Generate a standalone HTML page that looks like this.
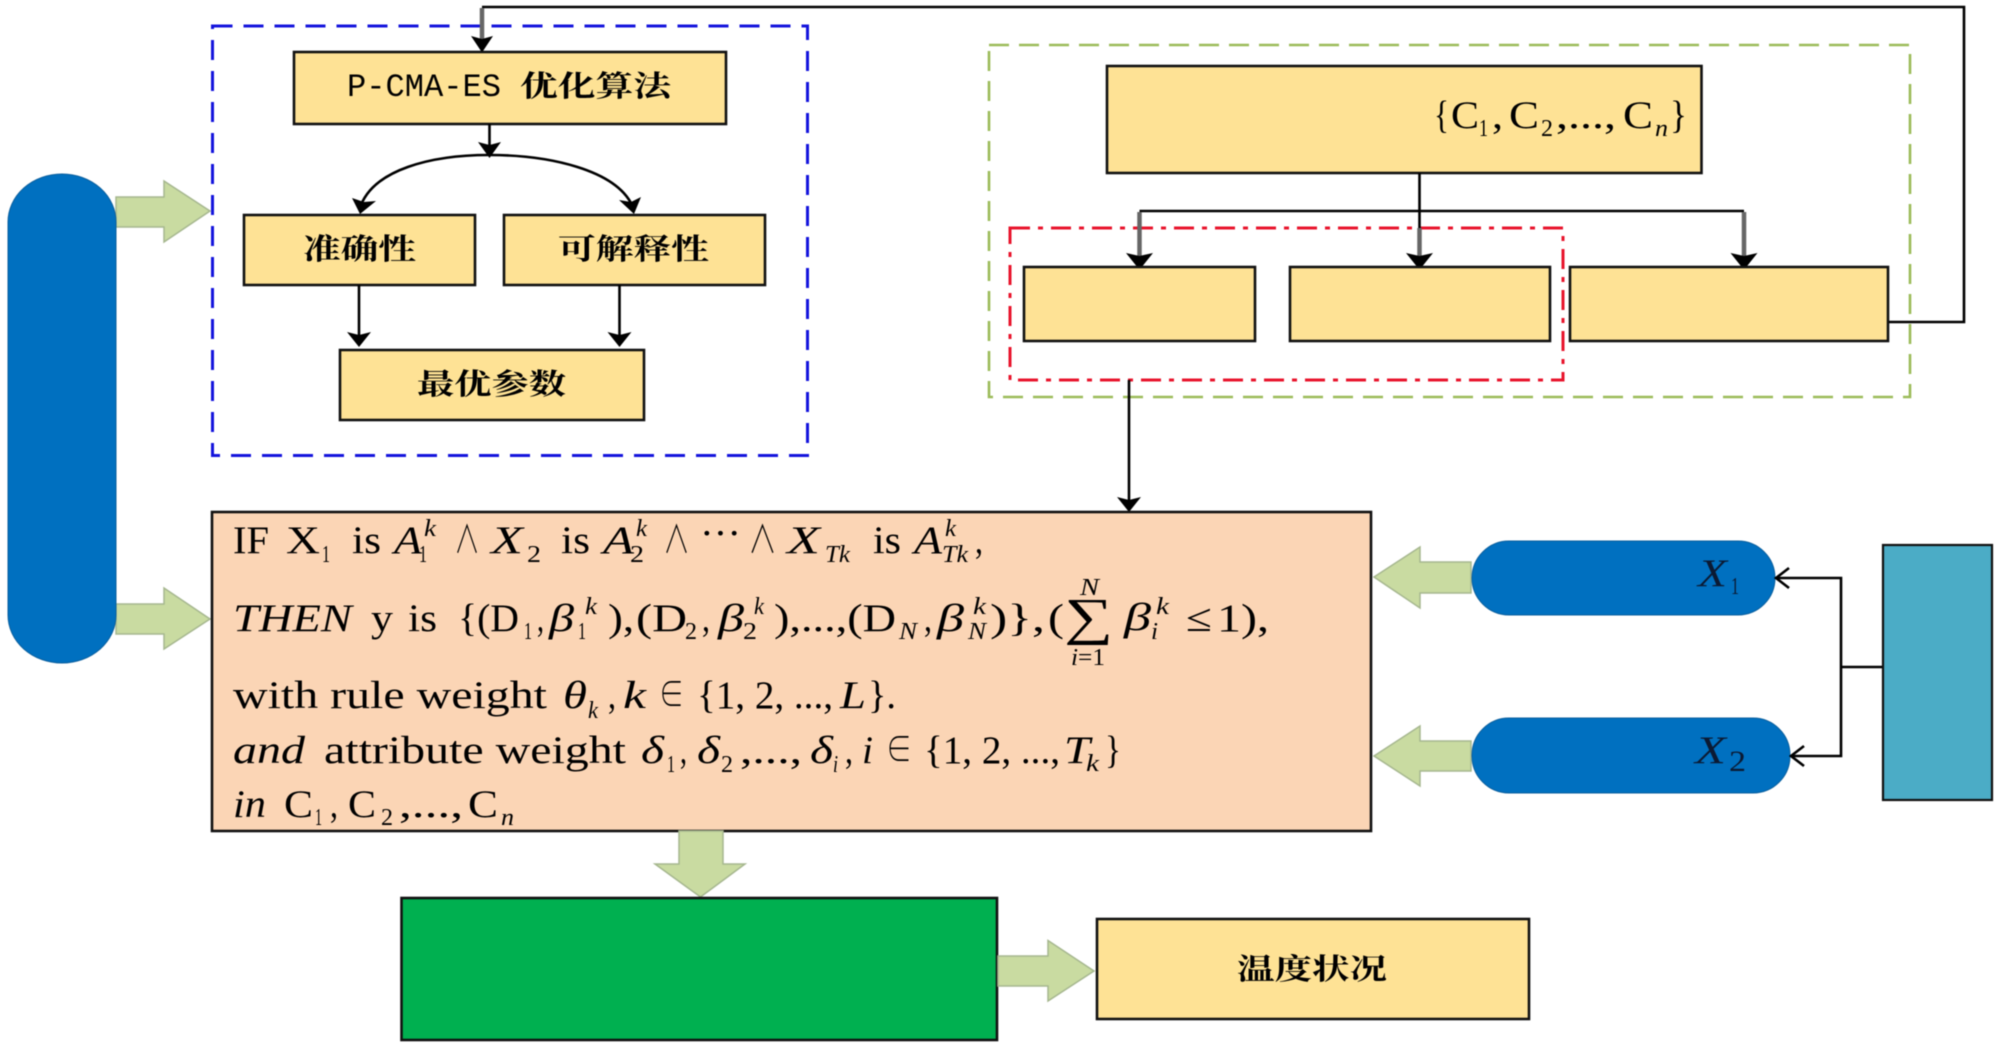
<!DOCTYPE html>
<html lang="zh"><head><meta charset="utf-8"><title>Diagram</title>
<style>
html,body{margin:0;padding:0;background:#fff}
svg{display:block;filter:blur(.4px)}
text{fill:#000;font-family:"Liberation Serif","Noto Serif CJK SC",serif;font-size:39px}
.i{font-style:italic}
.s{font-size:24px}
.si{font-size:24px;font-style:italic}
.c{font-family:"Liberation Serif","Noto Serif CJK SC",serif;font-weight:700;font-size:29px}
.m{font-family:"Liberation Mono","Noto Serif CJK SC",monospace;font-size:32px;font-weight:400}
.b{fill:#FEE295;stroke:#111;stroke-width:2.6}
.g{fill:#C9DBA1;stroke:#A6B78F;stroke-width:1.5}
.l{fill:none;stroke:#000;stroke-width:2.6}
.h{fill:#000}
.gs{stroke:#666;stroke-width:4.5;fill:none}
</style></head><body>
<svg xmlns="http://www.w3.org/2000/svg" width="2000" height="1049" viewBox="0 0 2000 1049">
<rect width="2000" height="1049" fill="#fff"/>

<!-- dashed containers -->
<rect x="212.5" y="26" width="595" height="429.5" fill="none" stroke="#1414DC" stroke-width="3" stroke-dasharray="20 11"/>
<rect x="989" y="45" width="921" height="352" fill="none" stroke="#9BBB59" stroke-width="2.6" stroke-dasharray="20 10"/>
<rect x="1010" y="228" width="553" height="152" fill="none" stroke="#E8142C" stroke-width="3" stroke-dasharray="20 8 5 8"/>

<!-- feedback connector -->
<polyline class="l" points="1888,322 1964,322 1964,7 482,7"/>
<line class="gs" x1="482" y1="8" x2="482" y2="40"/>
<polygon class="h" points="471,36 482,39 493,36 483,51 481,51"/>

<!-- optimisation boxes -->
<rect class="b" x="294" y="52" width="432" height="72"/>
<text class="m" x="347" y="96" textLength="154" lengthAdjust="spacingAndGlyphs">P-CMA-ES</text>
<text class="c" x="520" y="96" textLength="151" lengthAdjust="spacingAndGlyphs">优化算法</text>
<rect class="b" x="244" y="215" width="231" height="70"/>
<text class="c" x="303" y="259" textLength="113" lengthAdjust="spacingAndGlyphs">准确性</text>
<rect class="b" x="504" y="215" width="261" height="70"/>
<text class="c" x="558" y="259" textLength="151" lengthAdjust="spacingAndGlyphs">可解释性</text>
<rect class="b" x="340" y="350" width="304" height="70"/>
<text class="c" x="417" y="394" textLength="149" lengthAdjust="spacingAndGlyphs">最优参数</text>

<line class="l" x1="489.5" y1="124" x2="489.5" y2="145"/>
<polygon class="h" points="478,142 489.5,145 501,142 489.5,158"/>
<path class="l" d="M489 155 C430 155 375 170 361 205"/>
<path class="l" d="M489 155 C550 155 615 170 632 205"/>
<polygon class="h" points="352,198 364,202 376,201 360,214"/>
<polygon class="h" points="619,200 631,202 641,197 634,214"/>
<line class="l" x1="359" y1="285" x2="359" y2="336"/>
<polygon class="h" points="347,332 359,335 371,332 359,347"/>
<line class="l" x1="619.5" y1="285" x2="619.5" y2="336"/>
<polygon class="h" points="607.5,332 619.5,335 631.5,332 619.5,347"/>

<!-- left capsule and arrows -->
<polygon class="g" points="116,197 164,197 164,181 210,211 164,242 164,227 116,227"/>
<polygon class="g" points="116,604 164,604 164,588 210,619 164,649 164,634 116,634"/>
<rect x="8" y="174" width="108" height="489" rx="54" ry="48" fill="#0070C0" stroke="#0A5F9E" stroke-width="1"/>

<!-- top right tree -->
<rect class="b" x="1107" y="66" width="594.5" height="107"/>
<line class="l" x1="1419.5" y1="173" x2="1419.5" y2="228"/>
<line class="l" x1="1139.5" y1="211" x2="1744" y2="211"/>
<line class="gs" x1="1139.5" y1="212" x2="1139.5" y2="256"/>
<line class="gs" x1="1419.5" y1="228" x2="1419.5" y2="256"/>
<line class="gs" x1="1744" y1="212" x2="1744" y2="256"/>
<polygon class="h" points="1126,253 1139.5,256 1153,253 1141,268 1138,268"/>
<polygon class="h" points="1406,253 1419.5,256 1433,253 1421,268 1418,268"/>
<polygon class="h" points="1730.5,253 1744,256 1757.5,253 1745.5,268 1742.5,268"/>
<rect class="b" x="1024" y="267" width="231" height="74"/>
<rect class="b" x="1290" y="267" width="260" height="74"/>
<rect class="b" x="1570" y="267" width="318" height="74"/>
<text x="1434" y="128" textLength="15" lengthAdjust="spacingAndGlyphs">{</text>
<text x="1451" y="128" textLength="28" lengthAdjust="spacingAndGlyphs">C</text>
<text class="s" x="1479" y="136" textLength="9" lengthAdjust="spacingAndGlyphs">1</text>
<text x="1492" y="128" textLength="11" lengthAdjust="spacingAndGlyphs">,</text>
<text x="1509" y="128" textLength="30" lengthAdjust="spacingAndGlyphs">C</text>
<text class="s" x="1541" y="136" textLength="12" lengthAdjust="spacingAndGlyphs">2</text>
<text x="1556" y="128" textLength="60" lengthAdjust="spacingAndGlyphs">,...,</text>
<text x="1623" y="128" textLength="30" lengthAdjust="spacingAndGlyphs">C</text>
<text class="si" x="1655" y="136" textLength="13" lengthAdjust="spacingAndGlyphs">n</text>
<text x="1670" y="128" textLength="17" lengthAdjust="spacingAndGlyphs">}</text>

<line class="l" x1="1129" y1="380" x2="1129" y2="500"/>
<polygon class="h" points="1117,497 1129,500 1141,497 1129,512"/>

<!-- rule box -->
<rect x="212" y="512" width="1159" height="319" fill="#FBD5B5" stroke="#111" stroke-width="2.6"/>

<!-- line 1 -->
<text x="233" y="553" textLength="36" lengthAdjust="spacingAndGlyphs">IF</text>
<text x="286" y="553" textLength="34" lengthAdjust="spacingAndGlyphs">X</text>
<text class="s" x="322" y="562" textLength="8" lengthAdjust="spacingAndGlyphs">1</text>
<text x="352" y="553" textLength="29" lengthAdjust="spacingAndGlyphs">is</text>
<text class="i" x="394" y="553" textLength="28" lengthAdjust="spacingAndGlyphs">A</text>
<text class="si" x="424" y="536" textLength="12" lengthAdjust="spacingAndGlyphs">k</text>
<text class="s" x="419" y="562" textLength="8" lengthAdjust="spacingAndGlyphs">1</text>
<text x="454" y="553" textLength="26" lengthAdjust="spacingAndGlyphs">∧</text>
<text class="i" x="491" y="553" textLength="32" lengthAdjust="spacingAndGlyphs">X</text>
<text class="s" x="527" y="562" textLength="14" lengthAdjust="spacingAndGlyphs">2</text>
<text x="561" y="553" textLength="29" lengthAdjust="spacingAndGlyphs">is</text>
<text class="i" x="603" y="553" textLength="31" lengthAdjust="spacingAndGlyphs">A</text>
<text class="si" x="636" y="536" textLength="11" lengthAdjust="spacingAndGlyphs">k</text>
<text class="s" x="630" y="562" textLength="14" lengthAdjust="spacingAndGlyphs">2</text>
<text x="663" y="553" textLength="27" lengthAdjust="spacingAndGlyphs">∧</text>
<text x="700" y="546" textLength="41" lengthAdjust="spacingAndGlyphs">···</text>
<text x="748" y="553" textLength="29" lengthAdjust="spacingAndGlyphs">∧</text>
<text class="i" x="787" y="553" textLength="33" lengthAdjust="spacingAndGlyphs">X</text>
<text class="si" x="825" y="562" textLength="25" lengthAdjust="spacingAndGlyphs">Tk</text>
<text x="873" y="553" textLength="28" lengthAdjust="spacingAndGlyphs">is</text>
<text class="i" x="914" y="553" textLength="28" lengthAdjust="spacingAndGlyphs">A</text>
<text class="si" x="945" y="536" textLength="11" lengthAdjust="spacingAndGlyphs">k</text>
<text class="si" x="942" y="562" textLength="26" lengthAdjust="spacingAndGlyphs">Tk</text>
<text x="975" y="553" textLength="8" lengthAdjust="spacingAndGlyphs">,</text>

<!-- line 2 -->
<text class="i" x="233" y="631" textLength="119" lengthAdjust="spacingAndGlyphs">THEN</text>
<text x="371" y="631" textLength="22" lengthAdjust="spacingAndGlyphs">y</text>
<text x="408" y="631" textLength="29" lengthAdjust="spacingAndGlyphs">is</text>
<text x="458" y="631" textLength="61" lengthAdjust="spacingAndGlyphs">{(D</text>
<text class="s" x="524" y="639" textLength="8" lengthAdjust="spacingAndGlyphs">1</text>
<text x="537" y="631" textLength="7" lengthAdjust="spacingAndGlyphs">,</text>
<text class="i" x="549" y="631" textLength="25" lengthAdjust="spacingAndGlyphs">β</text>
<text class="si" x="585" y="614" textLength="12" lengthAdjust="spacingAndGlyphs">k</text>
<text class="s" x="578" y="639" textLength="8" lengthAdjust="spacingAndGlyphs">1</text>
<text x="608" y="631" textLength="26" lengthAdjust="spacingAndGlyphs">),</text>
<text x="636" y="631" textLength="51" lengthAdjust="spacingAndGlyphs">(D</text>
<text class="s" x="685" y="639" textLength="12" lengthAdjust="spacingAndGlyphs">2</text>
<text x="702" y="631" textLength="8" lengthAdjust="spacingAndGlyphs">,</text>
<text class="i" x="718" y="631" textLength="26" lengthAdjust="spacingAndGlyphs">β</text>
<text class="si" x="754" y="614" textLength="10" lengthAdjust="spacingAndGlyphs">k</text>
<text class="s" x="743" y="639" textLength="14" lengthAdjust="spacingAndGlyphs">2</text>
<text x="774" y="631" textLength="122" lengthAdjust="spacingAndGlyphs">),...,(D</text>
<text class="si" x="899" y="639" textLength="18" lengthAdjust="spacingAndGlyphs">N</text>
<text x="924" y="631" textLength="8" lengthAdjust="spacingAndGlyphs">,</text>
<text class="i" x="937" y="631" textLength="27" lengthAdjust="spacingAndGlyphs">β</text>
<text class="si" x="973" y="614" textLength="13" lengthAdjust="spacingAndGlyphs">k</text>
<text class="si" x="968" y="639" textLength="18" lengthAdjust="spacingAndGlyphs">N</text>
<text x="990" y="631" textLength="55" lengthAdjust="spacingAndGlyphs">)},</text>
<text x="1048" y="631" textLength="16" lengthAdjust="spacingAndGlyphs">(</text>
<text x="1064" y="634" style="font-size:52px" textLength="49" lengthAdjust="spacingAndGlyphs">∑</text>
<text class="si" x="1080" y="595" textLength="19" lengthAdjust="spacingAndGlyphs">N</text>
<text class="s" x="1071" y="665" textLength="34" lengthAdjust="spacingAndGlyphs"><tspan font-style="italic">i</tspan>=1</text>
<text class="i" x="1124" y="630" textLength="27" lengthAdjust="spacingAndGlyphs">β</text>
<text class="si" x="1156" y="614" textLength="13" lengthAdjust="spacingAndGlyphs">k</text>
<text class="si" x="1151" y="639" textLength="7" lengthAdjust="spacingAndGlyphs">i</text>
<text x="1186" y="631" textLength="26" lengthAdjust="spacingAndGlyphs">≤</text>
<text x="1217" y="631" textLength="52" lengthAdjust="spacingAndGlyphs">1),</text>

<!-- line 3 -->
<text x="233" y="708" textLength="314" lengthAdjust="spacingAndGlyphs">with rule weight</text>
<text class="i" x="563" y="708" textLength="24" lengthAdjust="spacingAndGlyphs">θ</text>
<text class="si" x="588" y="718" textLength="10" lengthAdjust="spacingAndGlyphs">k</text>
<text x="608" y="708" textLength="8" lengthAdjust="spacingAndGlyphs">,</text>
<text class="i" x="623" y="708" textLength="23" lengthAdjust="spacingAndGlyphs">k</text>
<text x="659" y="708" textLength="25" lengthAdjust="spacingAndGlyphs">∈</text>
<text x="697" y="708" textLength="136" lengthAdjust="spacingAndGlyphs">{1, 2, ...,</text>
<text class="i" x="840" y="708" textLength="26" lengthAdjust="spacingAndGlyphs">L</text>
<text x="868" y="708" textLength="28" lengthAdjust="spacingAndGlyphs">}.</text>

<!-- line 4 -->
<text class="i" x="233" y="763" textLength="72" lengthAdjust="spacingAndGlyphs">and</text>
<text x="324" y="763" textLength="302" lengthAdjust="spacingAndGlyphs">attribute weight</text>
<text class="i" x="641" y="763" textLength="23" lengthAdjust="spacingAndGlyphs">δ</text>
<text class="s" x="667" y="772" textLength="8" lengthAdjust="spacingAndGlyphs">1</text>
<text x="680" y="763" textLength="7" lengthAdjust="spacingAndGlyphs">,</text>
<text class="i" x="697" y="763" textLength="23" lengthAdjust="spacingAndGlyphs">δ</text>
<text class="s" x="721" y="772" textLength="12" lengthAdjust="spacingAndGlyphs">2</text>
<text x="740" y="763" textLength="62" lengthAdjust="spacingAndGlyphs">,...,</text>
<text class="i" x="810" y="763" textLength="23" lengthAdjust="spacingAndGlyphs">δ</text>
<text class="si" x="833" y="772" textLength="5" lengthAdjust="spacingAndGlyphs">i</text>
<text x="845" y="763" textLength="8" lengthAdjust="spacingAndGlyphs">,</text>
<text class="i" x="862" y="763" textLength="11" lengthAdjust="spacingAndGlyphs">i</text>
<text x="886" y="763" textLength="26" lengthAdjust="spacingAndGlyphs">∈</text>
<text x="924" y="763" textLength="136" lengthAdjust="spacingAndGlyphs">{1, 2, ...,</text>
<text class="i" x="1064" y="763" textLength="26" lengthAdjust="spacingAndGlyphs">T</text>
<text class="si" x="1086" y="771" textLength="13" lengthAdjust="spacingAndGlyphs">k</text>
<text x="1105" y="763" textLength="16" lengthAdjust="spacingAndGlyphs">}</text>

<!-- line 5 -->
<text class="i" x="233" y="817" textLength="33" lengthAdjust="spacingAndGlyphs">in</text>
<text x="284" y="817" textLength="29" lengthAdjust="spacingAndGlyphs">C</text>
<text class="s" x="315" y="825" textLength="7" lengthAdjust="spacingAndGlyphs">1</text>
<text x="330" y="817" textLength="8" lengthAdjust="spacingAndGlyphs">,</text>
<text x="348" y="817" textLength="28" lengthAdjust="spacingAndGlyphs">C</text>
<text class="s" x="381" y="825" textLength="12" lengthAdjust="spacingAndGlyphs">2</text>
<text x="399" y="817" textLength="64" lengthAdjust="spacingAndGlyphs">,...,</text>
<text x="468" y="817" textLength="30" lengthAdjust="spacingAndGlyphs">C</text>
<text class="si" x="501" y="825" textLength="13" lengthAdjust="spacingAndGlyphs">n</text>

<!-- right side -->
<polygon class="g" points="1471,562 1420,562 1420,547 1374,577 1420,608 1420,593 1471,593"/>
<polygon class="g" points="1471,741 1420,741 1420,726 1374,756 1420,786 1420,771 1471,771"/>
<rect x="1472" y="541" width="303" height="74" rx="37" ry="37" fill="#0070C0" stroke="#0A5F9E" stroke-width="1"/>
<rect x="1472" y="718" width="318" height="75" rx="37" ry="37" fill="#0070C0" stroke="#0A5F9E" stroke-width="1"/>
<text class="i" x="1698" y="586" textLength="29" lengthAdjust="spacingAndGlyphs" style="fill:#0b1a33">X</text>
<text class="s" x="1731" y="594" textLength="8" lengthAdjust="spacingAndGlyphs" style="fill:#0b1a33">1</text>
<text class="i" x="1695" y="763" textLength="31" lengthAdjust="spacingAndGlyphs" style="fill:#0b1a33">X</text>
<text x="1729" y="771" textLength="17" lengthAdjust="spacingAndGlyphs" style="fill:#0b1a33;font-size:30px">2</text>
<polyline class="l" points="1883,667 1841,667"/>
<polyline class="l" points="1776,578 1841,578 1841,756 1791,756"/>
<polyline class="l" points="1789,568 1776,578 1789,588"/>
<polyline class="l" points="1804,746 1791,756 1804,766"/>
<rect x="1883" y="545" width="109" height="255" fill="#4BACC6" stroke="#111" stroke-width="2.2"/>

<!-- bottom -->
<polygon class="g" points="679,831 723,831 723,864 745,864 700.5,897 655,864 679,864"/>
<rect x="401.5" y="898" width="595.5" height="142" fill="#00B050" stroke="#111" stroke-width="2.6"/>
<polygon class="g" points="998,956 1048,956 1048,940.5 1094,971 1048,1001 1048,986 998,986"/>
<rect class="b" x="1097" y="919" width="432" height="100"/>
<text class="c" x="1237" y="979" textLength="150" lengthAdjust="spacingAndGlyphs">温度状况</text>
</svg>
</body></html>
